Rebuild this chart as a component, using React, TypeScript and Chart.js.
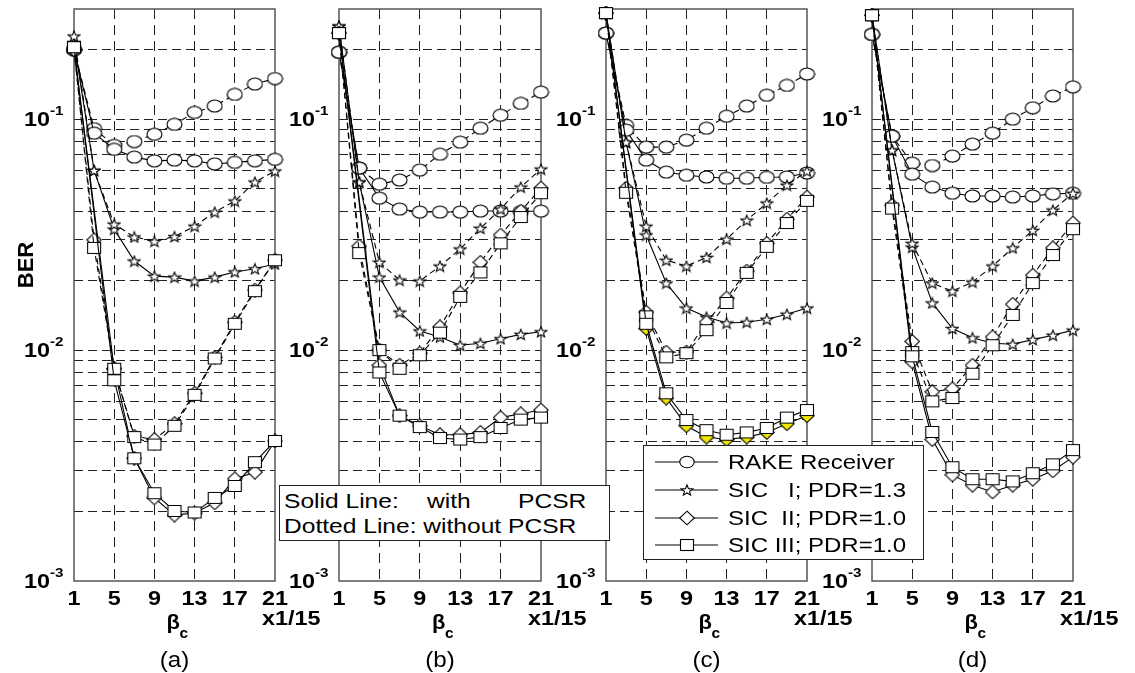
import React, { useEffect, useRef } from 'react';
import { Chart, registerables } from 'chart.js';

Chart.register(...registerables);

// ---------------- data ----------------
const beta = [1, 3, 5, 7, 9, 11, 13, 15, 17, 19, 21];
const xTickValues = [1, 5, 9, 13, 17, 21];
const yTickValues = [
  0.001, 0.002, 0.003, 0.004, 0.005, 0.006, 0.007, 0.008, 0.009,
  0.01, 0.02, 0.03, 0.04, 0.05, 0.06, 0.07, 0.08, 0.09,
  0.1, 0.2, 0.3,
];
const yDecadeValues = [0.1, 0.01, 0.001];
const yDecadeExps = ['-1', '-2', '-3'];
const panelLetters = ['(a)', '(b)', '(c)', '(d)'];
const legendLabels = ['RAKE Receiver', 'SIC   I; PDR=1.3', 'SIC  II; PDR=1.0', 'SIC III; PDR=1.0'];

// panel (a)
const aRakeD = [0.2, 0.091, 0.077, 0.08, 0.086, 0.095, 0.107, 0.114, 0.128, 0.142, 0.15];
const aRakeS = [0.2, 0.087, 0.074, 0.0685, 0.066, 0.0665, 0.066, 0.064, 0.065, 0.066, 0.067];
const aSic1D = [0.229, 0.06, 0.0351, 0.0309, 0.0296, 0.031, 0.0344, 0.0396, 0.0442, 0.0534, 0.0596];
const aSic1S = [0.215, 0.06, 0.0334, 0.0243, 0.0209, 0.0207, 0.0199, 0.0207, 0.0218, 0.0225, 0.0236];
const aSic2D = [0.2, 0.03, 0.0083, 0.00424, 0.0041, 0.0048, 0.0065, 0.0093, 0.0132, 0.0182, 0.0245];
const aSic2S = [0.2, null, 0.0083, 0.0034, 0.00229, 0.00193, 0.00197, 0.00218, 0.00277, 0.00296, 0.00404];
const aSic3D = [0.205, 0.0277, 0.0083, 0.0042, 0.0039, 0.0047, 0.0064, 0.0092, 0.013, 0.018, 0.0245];
const aSic3S = [0.205, null, 0.0074, 0.0034, 0.0024, 0.00201, 0.00198, 0.00229, 0.00258, 0.00327, 0.00404];

// panel (b)
const bRakeD = [0.195, 0.0614, 0.0523, 0.0545, 0.0602, 0.0705, 0.0795, 0.0914, 0.104, 0.117, 0.131];
const bRakeS = [0.195, 0.0614, 0.0455, 0.0408, 0.0396, 0.0396, 0.0396, 0.04, 0.04, 0.0398, 0.04];
const bSic1D = [0.253, 0.0534, 0.024, 0.0201, 0.0199, 0.0231, 0.0274, 0.0337, 0.0408, 0.0508, 0.0608];
const bSic1S = [0.253, 0.0534, 0.0207, 0.0146, 0.0121, 0.0114, 0.0105, 0.0107, 0.0112, 0.0117, 0.012];
const bSic2D = [0.236, 0.0282, 0.01, 0.0086, 0.0097, 0.0126, 0.0177, 0.024, 0.0315, 0.04, 0.0503];
const bSic2S = [0.236, null, 0.0086, 0.0052, 0.0047, 0.0043, 0.0043, 0.0044, 0.0051, 0.0053, 0.0055];
const bSic3D = [0.236, 0.0263, 0.01, 0.0083, 0.0095, 0.0119, 0.017, 0.0217, 0.029, 0.0377, 0.0478];
const bSic3S = [0.236, null, 0.008, 0.0052, 0.00464, 0.00416, 0.0041, 0.0042, 0.0046, 0.005, 0.0051];

// panel (c)
const cRakeD = [0.236, 0.094, 0.0757, 0.0757, 0.0811, 0.0914, 0.103, 0.114, 0.127, 0.14, 0.157];
const cRakeS = [0.236, 0.0896, 0.0665, 0.059, 0.0572, 0.0562, 0.0555, 0.0555, 0.056, 0.0562, 0.0585];
const cSic1D = [0.288, 0.0795, 0.0344, 0.0245, 0.0231, 0.0252, 0.0302, 0.0365, 0.0433, 0.0518, 0.0596];
const cSic1S = [0.288, 0.0795, 0.0315, 0.0195, 0.0152, 0.0139, 0.0131, 0.0132, 0.0136, 0.0143, 0.0152];
const cSic2D = [0.288, 0.0503, 0.0146, 0.0098, 0.0098, 0.0132, 0.0168, 0.022, 0.029, 0.0369, 0.046];
const cSic2S = [0.288, null, 0.0124, 0.0062, 0.0047, 0.0042, 0.0041, 0.0042, 0.0044, 0.0048, 0.0052];
const cSic3D = [0.288, 0.048, 0.014, 0.0093, 0.0097, 0.0122, 0.016, 0.0216, 0.028, 0.0355, 0.0443];
const cSic3S = [0.288, null, 0.013, 0.0065, 0.00498, 0.0045, 0.0043, 0.0044, 0.0046, 0.0051, 0.0055];

// panel (d)
const dRakeD = [0.233, 0.0844, 0.0645, 0.063, 0.0692, 0.078, 0.087, 0.1, 0.112, 0.126, 0.138];
const dRakeS = [0.233, 0.0844, 0.0578, 0.0508, 0.0478, 0.0465, 0.0465, 0.046, 0.0465, 0.0475, 0.0478];
const dSic1D = [0.282, 0.0734, 0.029, 0.0195, 0.018, 0.0197, 0.0231, 0.0277, 0.033, 0.0404, 0.0478];
const dSic1S = [0.282, 0.0734, 0.0279, 0.016, 0.0124, 0.0113, 0.0107, 0.0106, 0.0111, 0.0116, 0.0122];
const dSic2D = [0.282, 0.0424, 0.0109, 0.0066, 0.0068, 0.0086, 0.0114, 0.0158, 0.0211, 0.0277, 0.0355];
const dSic2S = [0.282, null, 0.0089, 0.0041, 0.00288, 0.0026, 0.00243, 0.0026, 0.00276, 0.003, 0.00344];
const dSic3D = [0.282, 0.041, 0.0098, 0.006, 0.0062, 0.0079, 0.0105, 0.0142, 0.0195, 0.0258, 0.0334];
const dSic3S = [0.282, null, 0.0094, 0.00442, 0.00311, 0.00276, 0.00276, 0.0027, 0.00293, 0.0032, 0.00369];

// ---------------- layout ----------------
const PAGE_W = 1135;
const PAGE_H = 673;
const PLOT_TOP = 9;
const PLOT_BOTTOM = 581;
const LEFT_ROOM = 74;
const RIGHT_ROOM = 58;
const panelPlotLeft = [74, 339, 606, 872];
const panelPlotRight = [275, 541, 807, 1073];
const FONT = '"Liberation Sans", Arial, Helvetica, sans-serif';
const SX = 1.17;
const INK = '#000';

type Kind = 'circle' | 'star' | 'diamond' | 'square';

function starPoints(cx: number, cy: number, ro: number, ri: number, sx: number): [number, number][] {
  const pts: [number, number][] = [];
  for (let i = 0; i < 10; i++) {
    const r = i % 2 === 0 ? ro : ri;
    const a = -Math.PI / 2 + (i * Math.PI) / 5;
    pts.push([cx + r * Math.cos(a) * sx, cy + r * Math.sin(a)]);
  }
  return pts;
}

function makeMarker(kind: Kind, fill: string): HTMLCanvasElement {
  const dims: Record<Kind, [number, number]> = {
    circle: [17, 14],
    star: [14, 13],
    diamond: [16, 15],
    square: [16, 14],
  };
  const c = document.createElement('canvas');
  c.width = dims[kind][0];
  c.height = dims[kind][1];
  const g = c.getContext('2d')!;
  const w = c.width;
  const h = c.height;
  const cx = w / 2;
  const cy = h / 2;
  g.fillStyle = fill;
  g.strokeStyle = INK;
  g.lineWidth = 1.1;
  g.beginPath();
  if (kind === 'circle') {
    g.ellipse(cx, cy, w / 2 - 1, h / 2 - 1, 0, 0, Math.PI * 2);
  } else if (kind === 'square') {
    g.rect(1.5, 1.5, w - 3, h - 3);
  } else if (kind === 'diamond') {
    g.moveTo(cx, 0.7);
    g.lineTo(w - 0.7, cy);
    g.lineTo(cx, h - 0.7);
    g.lineTo(0.7, cy);
  } else {
    const pts = starPoints(cx, cy + 0.6, 5.6, 2.4, 1.1);
    pts.forEach(([x, y], i) => (i === 0 ? g.moveTo(x, y) : g.lineTo(x, y)));
  }
  g.closePath();
  g.fill();
  g.stroke();
  return c;
}

type SeriesDef = { values: (number | null)[]; kind: Kind; dashed: boolean; fill?: string };

function panelSeries(p: number): SeriesDef[] {
  const sets = [
    [aRakeD, aRakeS, aSic1D, aSic1S, aSic2D, aSic2S, aSic3D, aSic3S],
    [bRakeD, bRakeS, bSic1D, bSic1S, bSic2D, bSic2S, bSic3D, bSic3S],
    [cRakeD, cRakeS, cSic1D, cSic1S, cSic2D, cSic2S, cSic3D, cSic3S],
    [dRakeD, dRakeS, dSic1D, dSic1S, dSic2D, dSic2S, dSic3D, dSic3S],
  ][p];
  const [rD, rS, s1D, s1S, s2D, s2S, s3D, s3S] = sets;
  // earlier entries are drawn on top
  return [
    { values: s3S, kind: 'square', dashed: false },
    { values: s3D, kind: 'square', dashed: true },
    { values: s2S, kind: 'diamond', dashed: false, fill: p === 2 ? '#f2e600' : '#fff' },
    { values: s2D, kind: 'diamond', dashed: true },
    { values: s1D, kind: 'star', dashed: true },
    { values: s1S, kind: 'star', dashed: false },
    { values: rS, kind: 'circle', dashed: false },
    { values: rD, kind: 'circle', dashed: true },
  ];
}

function stretchText(
  ctx: CanvasRenderingContext2D,
  text: string,
  x: number,
  y: number,
  font: string,
  align: CanvasTextAlign,
  sx: number
) {
  ctx.save();
  ctx.font = font;
  ctx.fillStyle = '#000';
  ctx.textAlign = align;
  ctx.textBaseline = 'alphabetic';
  ctx.translate(x, y);
  ctx.scale(sx, 1);
  ctx.fillText(text, 0, 0);
  ctx.restore();
}

const panelDecor = {
  id: 'panelDecor',
  beforeDatasetsDraw(chart: any) {
    const { left, top, right, bottom } = chart.chartArea;
    const ctx = chart.ctx;
    ctx.save();
    ctx.strokeStyle = '#555';
    ctx.lineWidth = 1.5;
    ctx.strokeRect(left, top, right - left, bottom - top);
    ctx.restore();
  },
  afterDraw(chart: any, _args: any, opts: any) {
    const ctx = chart.ctx as CanvasRenderingContext2D;
    const xs = chart.scales.x;
    const ys = chart.scales.y;
    const { left, right } = chart.chartArea;
    const cx = (left + right) / 2;
    yDecadeValues.forEach((v, i) => {
      const y = ys.getPixelForValue(v);
      stretchText(ctx, '10', left - 24, y + 7, `bold 20px ${FONT}`, 'right', SX);
      stretchText(ctx, yDecadeExps[i], left - 24, y - 4, `bold 13px ${FONT}`, 'left', SX);
    });
    xTickValues.forEach((v) => {
      stretchText(ctx, String(v), xs.getPixelForValue(v), 605, `bold 20px ${FONT}`, 'center', SX);
    });
    stretchText(ctx, 'β', cx - 8, 629, `bold 20px ${FONT}`, 'left', 1.1);
    stretchText(ctx, 'c', cx + 5, 638, `bold 14px ${FONT}`, 'left', 1.1);
    stretchText(ctx, 'x1/15', right - 13, 625, `bold 20px ${FONT}`, 'left', SX);
    stretchText(ctx, opts.letter, cx, 667, `22px ${FONT}`, 'center', 1.1);
    if (opts.showBer) {
      ctx.save();
      ctx.translate(left - 47, 265);
      ctx.rotate(-Math.PI / 2);
      ctx.font = `bold 22px ${FONT}`;
      ctx.fillStyle = '#000';
      ctx.textAlign = 'center';
      ctx.textBaseline = 'middle';
      ctx.fillText('BER', 0, 0);
      ctx.restore();
    }
  },
};

function PanelChart({ p }: { p: number }) {
  const ref = useRef<HTMLCanvasElement>(null);
  const plotLeft = panelPlotLeft[p];
  const plotRight = panelPlotRight[p];
  const canvasLeft = plotLeft - LEFT_ROOM;
  const canvasW = plotRight - plotLeft + LEFT_ROOM + RIGHT_ROOM;

  useEffect(() => {
    const series = panelSeries(p);
    const datasets = series.map((s) => {
      const img = makeMarker(s.kind, s.fill || '#fff');
      return {
        data: beta
          .map((b, i) => ({ x: b, y: s.values[i] }))
          .filter((pt) => pt.y !== null),
        borderColor: INK,
        borderWidth: 1.1,
        borderDash: s.dashed ? [6, 4] : [],
        pointStyle: img,
        pointRadius: 6,
        pointHoverRadius: 6,
        tension: 0,
        fill: false,
        clip: false,
      };
    });
    const edgeX = (ctx: any) =>
      ctx.tick && (ctx.tick.value === 1 || ctx.tick.value === 21) ? 'rgba(0,0,0,0)' : '#222';
    const edgeY = (ctx: any) =>
      ctx.tick && (ctx.tick.value === 0.001 || ctx.tick.value === 0.3) ? 'rgba(0,0,0,0)' : '#222';
    const chart = new Chart(ref.current as HTMLCanvasElement, {
      type: 'line',
      data: { datasets: datasets as any },
      plugins: [panelDecor as any],
      options: {
        responsive: false,
        maintainAspectRatio: false,
        animation: false,
        events: [],
        layout: {
          padding: {
            left: LEFT_ROOM,
            right: RIGHT_ROOM,
            top: PLOT_TOP,
            bottom: PAGE_H - PLOT_BOTTOM,
          },
        },
        plugins: {
          legend: { display: false },
          tooltip: { enabled: false },
          panelDecor: { letter: panelLetters[p], showBer: p === 0 },
        } as any,
        scales: {
          x: {
            type: 'linear',
            min: 1,
            max: 21,
            ticks: { display: false, stepSize: 4 },
            afterBuildTicks: (s: any) => {
              s.ticks = xTickValues.map((v) => ({ value: v }));
            },
            grid: { color: edgeX, drawTicks: false, lineWidth: 1 },
            border: { display: false, dash: [10, 6] },
          },
          y: {
            type: 'logarithmic',
            min: 0.001,
            max: 0.3,
            ticks: { display: false },
            afterBuildTicks: (s: any) => {
              s.ticks = yTickValues.map((v) => ({ value: v }));
            },
            grid: { color: edgeY, drawTicks: false, lineWidth: 1 },
            border: { display: false, dash: [9, 5] },
          },
        } as any,
      },
    });
    return () => chart.destroy();
  }, [p]);

  return (
    <canvas
      ref={ref}
      width={canvasW}
      height={PAGE_H}
      style={{ position: 'absolute', left: canvasLeft, top: 0, width: canvasW, height: PAGE_H }}
    />
  );
}

function Txt({ x, base, size, text, sx = 1.2, bold = false }: { x: number; base: number; size: number; text: string; sx?: number; bold?: boolean }) {
  return (
    <span
      style={{
        position: 'absolute',
        left: x,
        top: base - 0.8465 * size,
        fontFamily: FONT,
        fontSize: size,
        fontWeight: bold ? 'bold' : 'normal',
        lineHeight: `${size}px`,
        whiteSpace: 'pre',
        transform: `scaleX(${sx})`,
        transformOrigin: 'left top',
        color: '#000',
        zIndex: 11,
      }}
    >
      {text}
    </span>
  );
}

function LegendMarker({ kind, cx, cy }: { kind: Kind; cx: number; cy: number }) {
  const common = { fill: '#fff', stroke: INK, strokeWidth: 1.1 };
  if (kind === 'circle') return <ellipse cx={cx} cy={cy} rx={7.2} ry={5.8} {...common} />;
  if (kind === 'square') return <rect x={cx - 6.5} y={cy - 5.5} width={13} height={11} {...common} />;
  if (kind === 'diamond')
    return <polygon points={`${cx},${cy - 6.8} ${cx + 7.3},${cy} ${cx},${cy + 6.8} ${cx - 7.3},${cy}`} {...common} />;
  const pts = starPoints(cx, cy + 0.6, 5.6, 2.4, 1.1)
    .map(([x, y]) => `${x},${y}`)
    .join(' ');
  return <polygon points={pts} {...common} />;
}

const legendKinds: Kind[] = ['circle', 'star', 'diamond', 'square'];
const legendRowY = [462, 490, 518, 545];

export default function App() {
  return (
    <div
      style={{
        position: 'fixed',
        left: 0,
        top: 0,
        width: PAGE_W,
        height: PAGE_H,
        background: '#fff',
        overflow: 'hidden',
      }}
    >
      {[0, 1, 2, 3].map((p) => (
        <PanelChart key={p} p={p} />
      ))}

      {/* line-style note box */}
      <div
        style={{
          position: 'absolute',
          left: 279,
          top: 485,
          width: 331,
          height: 56,
          boxSizing: 'border-box',
          border: '1px solid #222',
          background: '#fff',
          zIndex: 10,
        }}
      />
      <Txt x={284} base={508} size={21} text="Solid Line:" sx={1.17} />
      <Txt x={427} base={508} size={21} text="with" sx={1.17} />
      <Txt x={518} base={508} size={21} text="PCSR" sx={1.17} />
      <Txt x={284} base={533} size={21} text="Dotted Line: without PCSR" sx={1.17} />

      {/* legend box */}
      <div
        style={{
          position: 'absolute',
          left: 643,
          top: 445,
          width: 281,
          height: 115,
          boxSizing: 'border-box',
          border: '1px solid #222',
          background: '#fff',
          zIndex: 10,
        }}
      />
      <svg
        width={90}
        height={115}
        style={{ position: 'absolute', left: 643, top: 0, zIndex: 11, overflow: 'visible' }}
      >
        {legendKinds.map((k, i) => (
          <g key={k}>
            <line x1={12} x2={75} y1={legendRowY[i]} y2={legendRowY[i]} stroke={INK} strokeWidth={1} />
            <LegendMarker kind={k} cx={44} cy={legendRowY[i]} />
          </g>
        ))}
      </svg>
      {legendLabels.map((t, i) => (
        <Txt key={t} x={728} base={legendRowY[i] + 6.5} size={20} text={t} sx={1.2} />
      ))}
    </div>
  );
}
